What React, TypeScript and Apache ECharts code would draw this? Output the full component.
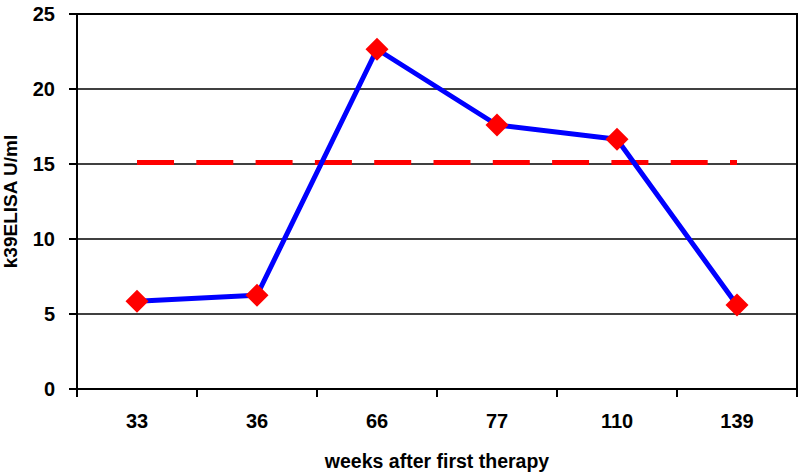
import React, { useEffect, useRef } from "react";
import * as echarts from "echarts";

const categories = ["33", "36", "66", "77", "110", "139"];
const k39Values = [5.85, 6.25, 22.65, 17.6, 16.65, 5.6];
const cutoffValues = [15.1, 15.1, 15.1, 15.1, 15.1, 15.1];
const yTicks = { min: 0, max: 25, interval: 5 };
const yAxisName = "k39ELISA U/ml";
const xAxisName = "weeks after first therapy";

const FONT = "'Liberation Sans', Arial, sans-serif";

export default function App() {
  const ref = useRef<HTMLDivElement>(null);
  useEffect(() => {
    if (!ref.current) return;
    const chart = echarts.init(ref.current, undefined, { renderer: "svg" });
    chart.setOption({
      animation: false,
      backgroundColor: "#ffffff",
      grid: {
        left: 77,
        right: 2,
        top: 14,
        bottom: 86,
        outerBoundsMode: "none",
        containLabel: false,
        show: true,
        borderColor: "#000",
        borderWidth: 2,
        backgroundColor: "transparent",
      },
      xAxis: {
        type: "category",
        data: categories,
        boundaryGap: true,
        name: xAxisName,
        nameLocation: "middle",
        nameGap: 62,
        nameTextStyle: { fontFamily: FONT, fontWeight: "bold", fontSize: 19.5, color: "#000" },
        axisLine: { show: true, lineStyle: { color: "#000", width: 2 } },
        axisTick: { show: true, length: 8, lineStyle: { color: "#000", width: 2 } },
        axisLabel: { fontFamily: FONT, fontWeight: "bold", fontSize: 20, color: "#000", margin: 22 },
        splitLine: { show: false },
      },
      yAxis: {
        type: "value",
        min: yTicks.min,
        max: yTicks.max,
        interval: yTicks.interval,
        name: yAxisName,
        nameLocation: "middle",
        nameGap: 57,
        nameRotate: 90,
        nameTextStyle: { fontFamily: FONT, fontWeight: "bold", fontSize: 19, color: "#000" },
        axisLine: { show: true, lineStyle: { color: "#000", width: 2 } },
        axisTick: { show: true, length: 8, lineStyle: { color: "#000", width: 2 } },
        axisLabel: { fontFamily: FONT, fontWeight: "bold", fontSize: 20, color: "#000", margin: 22 },
        splitLine: { show: true, lineStyle: { color: "#000", width: 1.5 } },
      },
      series: [
        {
          name: "cutoff",
          type: "line",
          data: cutoffValues,
          symbol: "none",
          silent: true,
          lineStyle: { color: "#ff0000", width: 5, type: [37, 22.3], cap: "butt" },
          z: 2,
        },
        {
          name: "k39",
          type: "line",
          data: k39Values,
          symbol: "diamond",
          symbolSize: 23,
          lineStyle: { color: "#0000ff", width: 5 },
          itemStyle: { color: "#ff0000" },
          z: 3,
        },
      ],
    });
    return () => chart.dispose();
  }, []);
  return (
    <div
      ref={ref}
      style={{ position: "fixed", left: 0, top: 0, width: 799, height: 475, background: "#fff" }}
    />
  );
}
